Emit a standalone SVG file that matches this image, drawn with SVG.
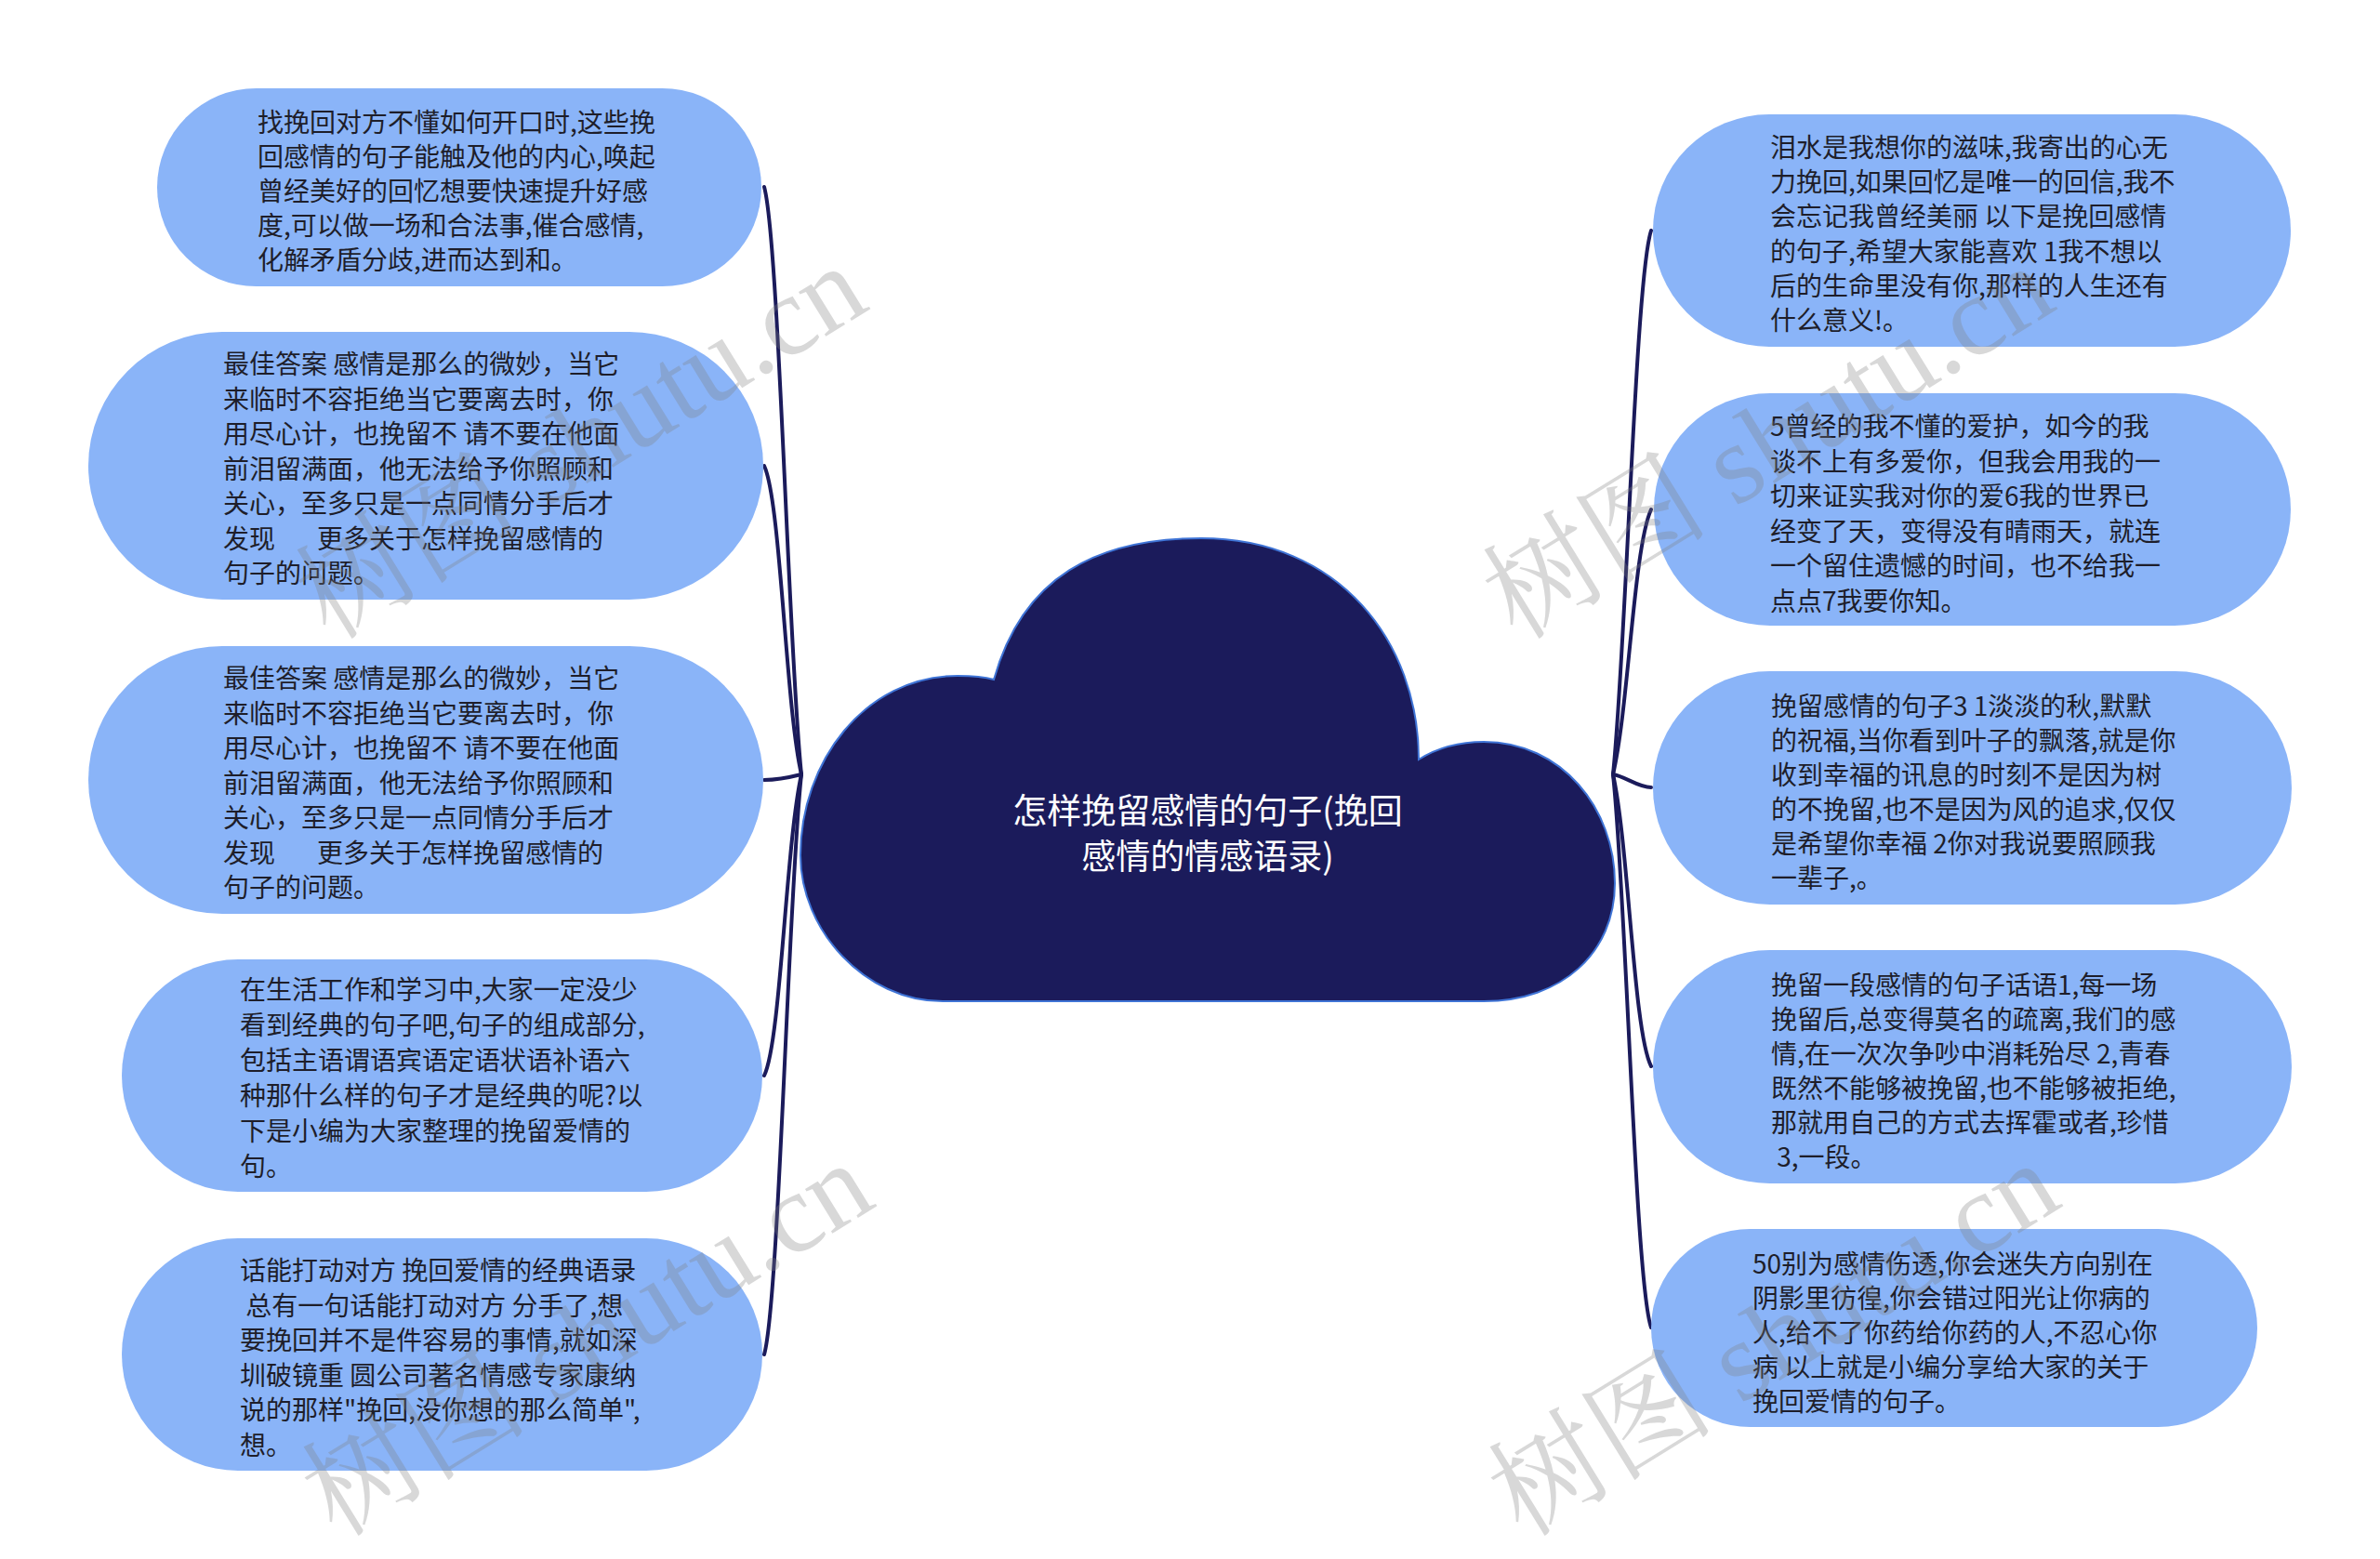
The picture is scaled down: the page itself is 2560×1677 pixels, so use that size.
<svg xmlns="http://www.w3.org/2000/svg" width="2560" height="1677" viewBox="0 0 2560 1677">
<style>
.node{fill:#8ab4f8;}
.t{font-family:"Noto Sans CJK SC","Noto Sans",sans-serif;font-size:28px;fill:#1e1e2a;dominant-baseline:central;}
.title{font-family:"Noto Sans CJK SC","Noto Sans",sans-serif;font-size:37px;fill:#ffffff;text-anchor:middle;dominant-baseline:central;}
.conn{fill:none;stroke:#1b1b5b;stroke-width:4;stroke-linecap:round;}
.wm{font-family:"Liberation Serif","Noto Serif CJK SC","Noto Sans CJK SC",serif;font-size:122px;fill:#808080;opacity:0.3;}
</style>
<rect width="2560" height="1677" fill="#ffffff"/>
<g id="connectors">
<path class="conn" d="M862 833 C848 700,838 260,822 201"/>
<path class="conn" d="M862 833 C845 760,840 540,822 501"/>
<path class="conn" d="M862 833 C850 836,835 839,822 839"/>
<path class="conn" d="M862 833 C845 910,840 1120,822 1157"/>
<path class="conn" d="M862 833 C848 960,838 1400,822 1457"/>
<path class="conn" d="M1735 833 C1749 700,1759 300,1776 248"/>
<path class="conn" d="M1735 833 C1752 760,1757 590,1776 548"/>
<path class="conn" d="M1735 833 C1748 835,1762 847,1776 847"/>
<path class="conn" d="M1735 833 C1752 910,1757 1110,1776 1147"/>
<path class="conn" d="M1735 833 C1749 960,1759 1380,1776 1428"/>
</g>
<g id="center">
<path d="M1014 1077 C930 1077,861 1000,861 920 C861 820,930 727,1030 727 Q1055 727,1069 731 C1100 620,1180 579,1292 579 C1440 579,1526 690,1526 817 C1545 805,1570 798,1596 798 C1680 798,1737 870,1737 950 C1737 1025,1680 1077,1596 1077 Z" fill="#1b1b5b" stroke="#3f74d6" stroke-width="2"/>
<text class="title" x="1299" y="870">怎样挽留感情的句子(挽回</text>
<text class="title" x="1299" y="919">感情的情感语录)</text>
</g>
<g id="left1">
<rect class="node" x="169" y="95" width="650" height="213" rx="106.5"/>
<text class="t" x="277" y="130">找挽回对方不懂如何开口时,这些挽</text>
<text class="t" x="277" y="167">回感情的句子能触及他的内心,唤起</text>
<text class="t" x="277" y="204">曾经美好的回忆想要快速提升好感</text>
<text class="t" x="277" y="241">度,可以做一场和合法事,催合感情,</text>
<text class="t" x="277" y="278">化解矛盾分歧,进而达到和。</text>
</g>
<g id="left2">
<rect class="node" x="95" y="357" width="726" height="288" rx="144"/>
<text class="t" x="240" y="390">最佳答案 感情是那么的微妙，当它</text>
<text class="t" x="240" y="427.5">来临时不容拒绝当它要离去时，你</text>
<text class="t" x="240" y="465">用尽心计，也挽留不 请不要在他面</text>
<text class="t" x="240" y="502.5">前泪留满面，他无法给予你照顾和</text>
<text class="t" x="240" y="540">关心，至多只是一点同情分手后才</text>
<text class="t" x="240" y="577.5">发现<tspan x="341">更多关于怎样挽留感情的</tspan></text>
<text class="t" x="240" y="615">句子的问题。</text>
</g>
<g id="left3">
<rect class="node" x="95" y="695" width="726" height="288" rx="144"/>
<text class="t" x="240" y="728">最佳答案 感情是那么的微妙，当它</text>
<text class="t" x="240" y="765.5">来临时不容拒绝当它要离去时，你</text>
<text class="t" x="240" y="803">用尽心计，也挽留不 请不要在他面</text>
<text class="t" x="240" y="840.5">前泪留满面，他无法给予你照顾和</text>
<text class="t" x="240" y="878">关心，至多只是一点同情分手后才</text>
<text class="t" x="240" y="915.5">发现<tspan x="341">更多关于怎样挽留感情的</tspan></text>
<text class="t" x="240" y="953">句子的问题。</text>
</g>
<g id="left4">
<rect class="node" x="131" y="1032" width="689" height="250" rx="125"/>
<text class="t" x="258" y="1063">在生活工作和学习中,大家一定没少</text>
<text class="t" x="258" y="1101">看到经典的句子吧,句子的组成部分,</text>
<text class="t" x="258" y="1139">包括主语谓语宾语定语状语补语六</text>
<text class="t" x="258" y="1177">种那什么样的句子才是经典的呢?以</text>
<text class="t" x="258" y="1215">下是小编为大家整理的挽留爱情的</text>
<text class="t" x="258" y="1253">句。</text>
</g>
<g id="left5">
<rect class="node" x="131" y="1332" width="689" height="250" rx="125"/>
<text class="t" x="258" y="1365">话能打动对方 挽回爱情的经典语录</text>
<text class="t" x="258" y="1402.6" xml:space="preserve"> 总有一句话能打动对方 分手了,想</text>
<text class="t" x="258" y="1440.2">要挽回并不是件容易的事情,就如深</text>
<text class="t" x="258" y="1477.8">圳破镜重 圆公司著名情感专家康纳</text>
<text class="t" x="258" y="1515.4">说的那样"挽回,没你想的那么简单",</text>
<text class="t" x="258" y="1553">想。</text>
</g>
<g id="right1">
<rect class="node" x="1778" y="123" width="686" height="250" rx="125"/>
<text class="t" x="1904" y="157">泪水是我想你的滋味,我寄出的心无</text>
<text class="t" x="1904" y="194.2">力挽回,如果回忆是唯一的回信,我不</text>
<text class="t" x="1904" y="231.4">会忘记我曾经美丽 以下是挽回感情</text>
<text class="t" x="1904" y="268.6">的句子,希望大家能喜欢 1我不想以</text>
<text class="t" x="1904" y="305.8">后的生命里没有你,那样的人生还有</text>
<text class="t" x="1904" y="343">什么意义!。</text>
</g>
<g id="right2">
<rect class="node" x="1779" y="423" width="685" height="250" rx="125"/>
<text class="t" x="1904" y="457">5曾经的我不懂的爱护，如今的我</text>
<text class="t" x="1904" y="494.6">谈不上有多爱你，但我会用我的一</text>
<text class="t" x="1904" y="532.2">切来证实我对你的爱6我的世界已</text>
<text class="t" x="1904" y="569.8">经变了天，变得没有晴雨天，就连</text>
<text class="t" x="1904" y="607.4">一个留住遗憾的时间，也不给我一</text>
<text class="t" x="1904" y="645">点点7我要你知。</text>
</g>
<g id="right3">
<rect class="node" x="1778" y="722" width="687" height="251" rx="125.5"/>
<text class="t" x="1905" y="758">挽留感情的句子3 1淡淡的秋,默默</text>
<text class="t" x="1905" y="795">的祝福,当你看到叶子的飘落,就是你</text>
<text class="t" x="1905" y="832">收到幸福的讯息的时刻不是因为树</text>
<text class="t" x="1905" y="869">的不挽留,也不是因为风的追求,仅仅</text>
<text class="t" x="1905" y="906">是希望你幸福 2你对我说要照顾我</text>
<text class="t" x="1905" y="943">一辈子,。</text>
</g>
<g id="right4">
<rect class="node" x="1778" y="1022" width="687" height="251" rx="125.5"/>
<text class="t" x="1905" y="1058">挽留一段感情的句子话语1,每一场</text>
<text class="t" x="1905" y="1095">挽留后,总变得莫名的疏离,我们的感</text>
<text class="t" x="1905" y="1132">情,在一次次争吵中消耗殆尽 2,青春</text>
<text class="t" x="1905" y="1169">既然不能够被挽留,也不能够被拒绝,</text>
<text class="t" x="1905" y="1206">那就用自己的方式去挥霍或者,珍惜</text>
<text class="t" x="1905" y="1243" xml:space="preserve"> 3,一段。</text>
</g>
<g id="right5">
<rect class="node" x="1776" y="1322" width="652" height="213" rx="106.5"/>
<text class="t" x="1885" y="1358">50别为感情伤透,你会迷失方向别在</text>
<text class="t" x="1885" y="1395">阴影里彷徨,你会错过阳光让你病的</text>
<text class="t" x="1885" y="1432">人,给不了你药给你药的人,不忍心你</text>
<text class="t" x="1885" y="1469">病 以上就是小编分享给大家的关于</text>
<text class="t" x="1885" y="1506">挽回爱情的句子。</text>
</g>
<g id="watermarks">
<text class="wm" x="355" y="690" transform="rotate(-31.6 355 690)">树图 shutu.cn</text>
<text class="wm" x="362" y="1655" transform="rotate(-31.6 362 1655)">树图 shutu.cn</text>
<text class="wm" x="1632" y="690" transform="rotate(-31.6 1632 690)">树图 shutu.cn</text>
<text class="wm" x="1638" y="1655" transform="rotate(-31.6 1638 1655)">树图 shutu.cn</text>
</g>
</svg>
